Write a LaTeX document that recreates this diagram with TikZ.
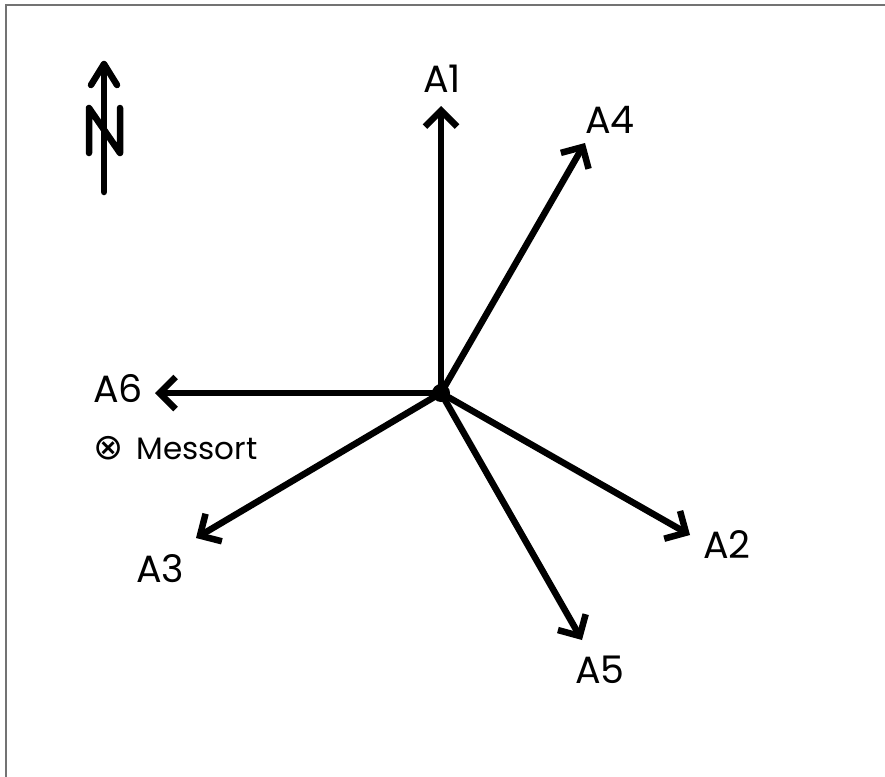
\documentclass[tikz,border=0pt]{standalone}
\usepackage{fontspec}
\setmainfont{Poppins}
\newfontfamily\symfont{DejaVu Sans}
\usetikzlibrary{arrows.meta}
\begin{document}
\begin{tikzpicture}[x=1pt,y=-1pt,
  vec/.style={line width=6.5pt,-{Straight Barb[length=16pt,width=32pt,line width=6.5pt]}},
  lbl/.style={font=\fontsize{38}{42}\selectfont,inner sep=0pt},
  north/.style={line width=6.5pt,line cap=round}]
\useasboundingbox (0,0) rectangle (885,776);
\draw[line width=2pt,color=gray!90!black] (6,790) -- (6,5) -- (900,5);
% centre
\coordinate (c) at (441,393);
\coordinate (e1) at (441,106);
\coordinate (e4) at (585,143);
\coordinate (e6) at (155,393);
\coordinate (e3) at (196,538);
\coordinate (e2) at (690,535);
\coordinate (e5) at (582,640);
\draw[vec] (c) -- (e1);
\draw[vec] (c) -- (e4);
\draw[vec] (c) -- (e6);
\draw[vec] (c) -- (e3);
\draw[vec] (c) -- (e2);
\draw[vec] (c) -- (e5);
\fill (c) circle (9);
\node[lbl] (l1) at (442,79) {A1};
\node[lbl] (l4) at (610,120) {A4};
\node[lbl] (l6) at (118,389) {A6};
\node[lbl] (l3) at (160,569) {A3};
\node[lbl] (l2) at (727,545) {A2};
\node[lbl] (l5) at (600,670) {A5};
\node[anchor=west,inner sep=0pt,font=\fontsize{31}{34}\selectfont] (m) at (93,448) {{\symfont\fontsize{36}{38}\selectfont ⊗}\hspace{13pt}Messort};
% north arrow
\coordinate (n0) at (104,192);
\coordinate (n1) at (104,64);
\draw[north] (n0) -- (n1);
\draw[north,line join=round] (91,85) -- (n1) -- (117,85);
\draw[north,line join=round] (89,153) -- (89,108) -- (120,153) -- (120,108);
\end{tikzpicture}
\end{document}
